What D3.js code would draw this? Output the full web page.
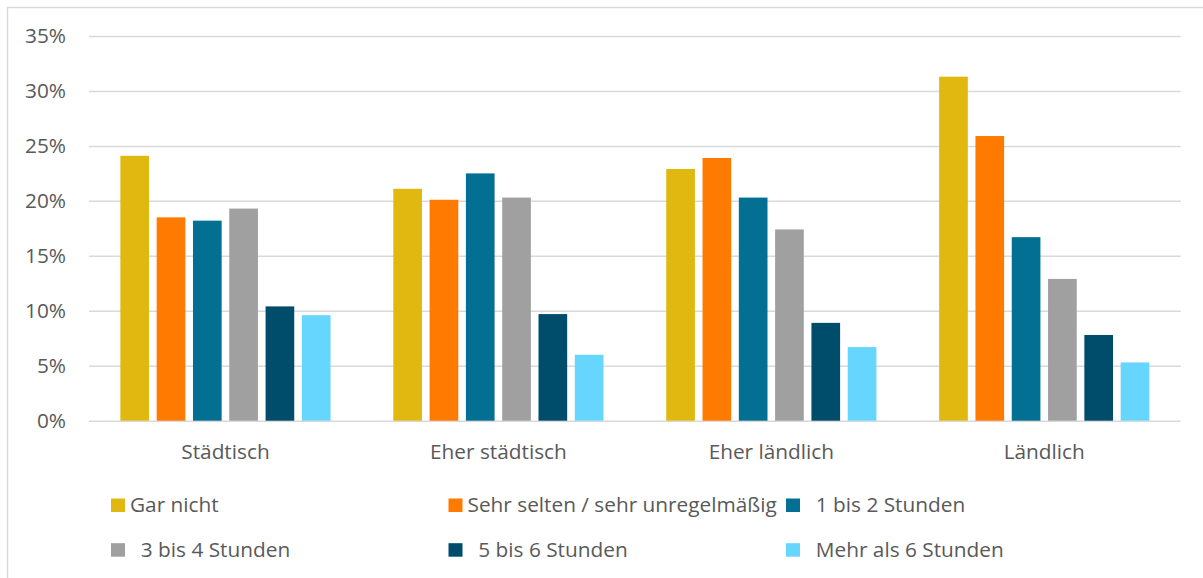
<!DOCTYPE html>
<html>
<head>
<meta charset="utf-8">
<script src="https://cdn.jsdelivr.net/npm/d3@7"></script>
<style>
  body { margin: 0; background: #fff; }
  text { font-family: "Open Sans", sans-serif; fill: #595959; }
</style>
</head>
<body>
<main></main>
<script>
// chart data
const categories = ["Städtisch", "Eher städtisch", "Eher ländlich", "Ländlich"];
const seriesNames = ["Gar nicht", "Sehr selten / sehr unregelmäßig", "  1 bis 2 Stunden",
                     "  3 bis 4 Stunden", "  5 bis 6 Stunden", "  Mehr als 6 Stunden"];
const garNicht    = [24.1, 21.1, 22.9, 31.3];
const sehrSelten  = [18.5, 20.1, 23.9, 25.9];
const einsBisZwei = [18.2, 22.5, 20.3, 16.7];
const dreiBisVier = [19.3, 20.3, 17.4, 12.9];
const fuenfBisSechs = [10.4, 9.7, 8.9, 7.8];
const mehrAlsSechs  = [9.6, 6.0, 6.7, 5.3];
const yTicks = [0, 5, 10, 15, 20, 25, 30, 35];

const seriesValues = [garNicht, sehrSelten, einsBisZwei, dreiBisVier, fuenfBisSechs, mehrAlsSechs];
const colors = ["#E1B80F", "#FF7A00", "#037093", "#A0A0A0", "#004C6B", "#66D6FF"];

const svgSize = { width: 1203, height: 578 };
const plot = { left: 89, right: 1180.7, top: 36, bottom: 420.7 };
const fontSize = "20.8px";

const svg = d3.select("main")
  .append("svg")
  .attr("width", svgSize.width)
  .attr("height", svgSize.height);

// chart frame (cut off at right and bottom like the picture)
svg.append("rect")
  .attr("x", 7.5).attr("y", 7.5)
  .attr("width", 1300).attr("height", 700)
  .attr("fill", "none")
  .attr("stroke", "#D9D9D9")
  .attr("stroke-width", 1.5);

const yScale = d3.scaleLinear()
  .domain([0, 35])
  .range([plot.bottom, plot.top]);

const x0 = d3.scaleBand()
  .domain(categories)
  .range([plot.left, plot.right]);

// bars of one cluster: step ~36.3px, bar ~28.7px
const groupHalf = 108.9;
const x1 = d3.scaleBand()
  .domain(d3.range(seriesNames.length))
  .range([x0.bandwidth() / 2 - groupHalf, x0.bandwidth() / 2 + groupHalf])
  .paddingInner(0.21)
  .paddingOuter(0.105);

// gridlines + y labels
const yAxis = svg.append("g")
  .attr("transform", `translate(${plot.left},0)`)
  .call(d3.axisLeft(yScale)
    .tickValues(yTicks)
    .tickSize(-(plot.right - plot.left))
    .tickPadding(23)
    .tickFormat(d => d + "%"));
yAxis.select(".domain").remove();
yAxis.selectAll(".tick line")
  .attr("stroke", "#D9D9D9")
  .attr("stroke-width", 1.5);
yAxis.selectAll(".tick text")
  .style("font-size", fontSize)
  .style("font-family", "'Open Sans', sans-serif")
  .attr("fill", "#595959");

// bars
const groups = svg.selectAll(".cat")
  .data(categories)
  .enter()
  .append("g")
  .attr("class", "cat")
  .attr("transform", d => `translate(${x0(d)},0)`);

groups.selectAll("rect")
  .data((d, ci) => seriesValues.map((vals, si) => ({ si, v: vals[ci] })))
  .enter()
  .append("rect")
  .attr("x", d => x1(d.si))
  .attr("y", d => yScale(d.v))
  .attr("width", x1.bandwidth())
  .attr("height", d => yScale(0) - yScale(d.v))
  .attr("fill", d => colors[d.si]);

// category labels
const xAxis = svg.append("g")
  .attr("transform", `translate(0,${plot.bottom})`)
  .call(d3.axisBottom(x0).tickSize(0).tickPadding(24));
xAxis.select(".domain").remove();
xAxis.selectAll(".tick text")
  .style("font-size", fontSize)
  .style("font-family", "'Open Sans', sans-serif")
  .attr("fill", "#595959");

// legend, 3 columns x 2 rows
const legendCols = [111, 448.5, 786];
const legendRows = [505, 549.7];
const legend = svg.append("g");
seriesNames.forEach((name, i) => {
  const lx = legendCols[i % 3];
  const ly = legendRows[Math.floor(i / 3)];
  legend.append("rect")
    .attr("x", lx).attr("y", ly - 6.5)
    .attr("width", 14).attr("height", 13.5)
    .attr("fill", colors[i]);
  legend.append("text")
    .attr("x", lx + 19)
    .attr("y", ly)
    .attr("dy", "0.35em")
    .style("font-size", fontSize)
    .style("white-space", "pre")
    .text(name);
});
</script>
</body>
</html>
